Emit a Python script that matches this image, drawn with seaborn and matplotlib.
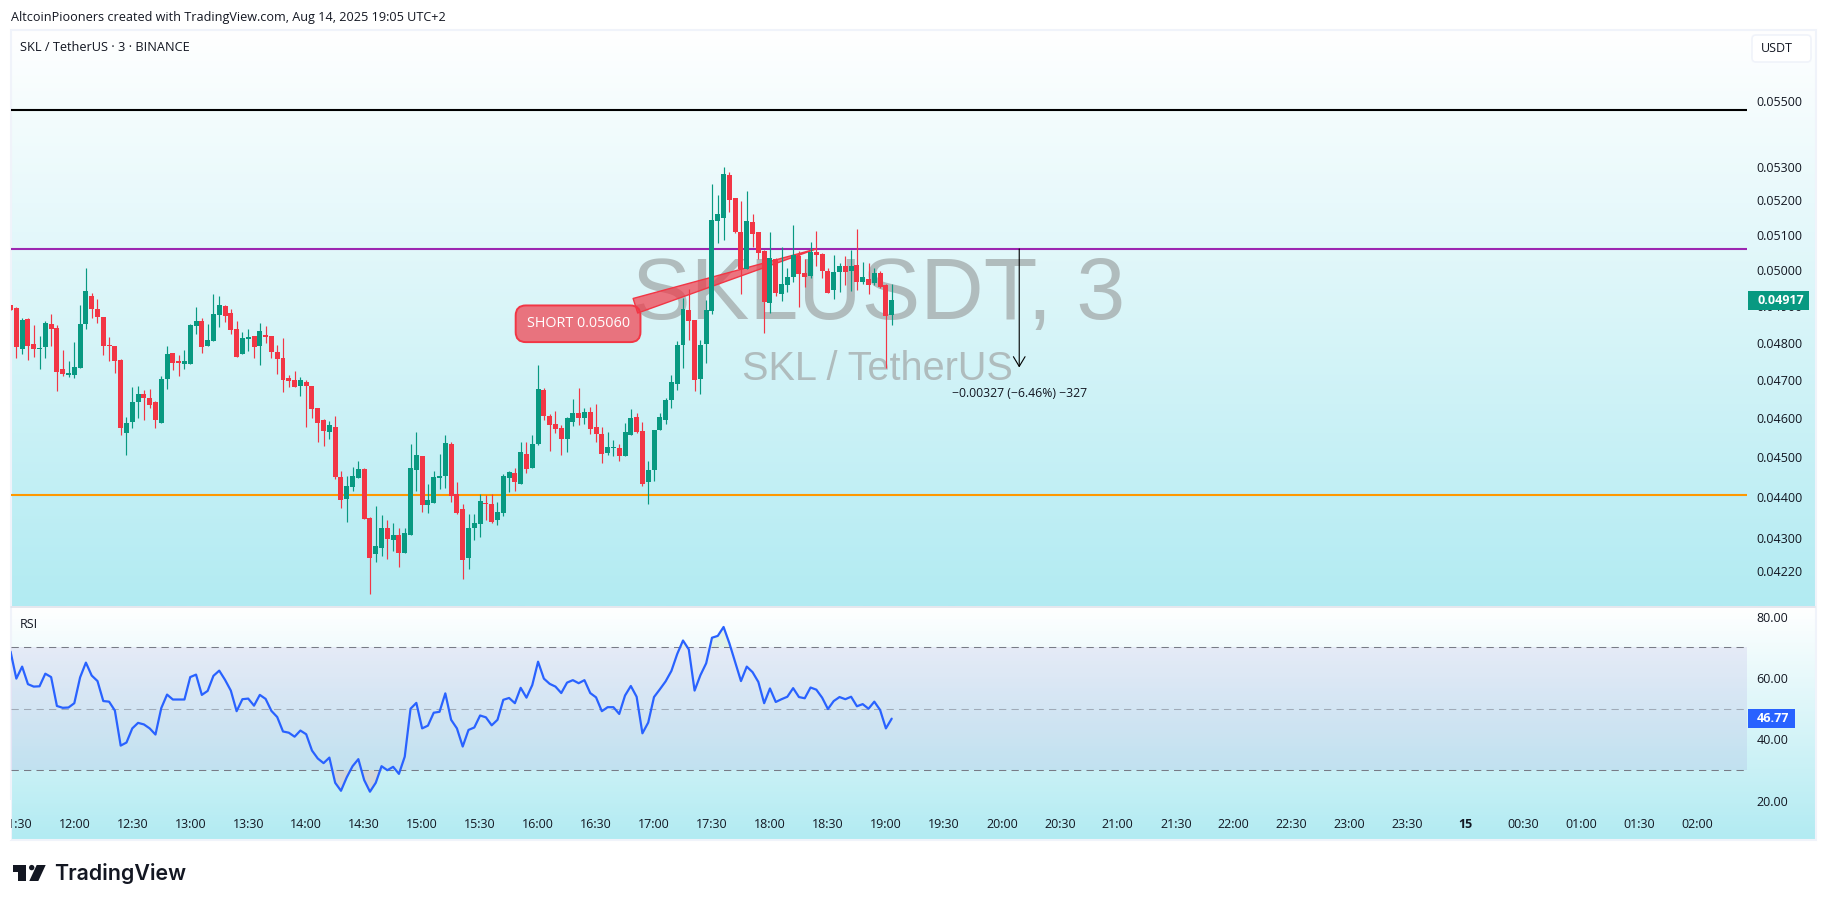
import numpy as np
import matplotlib
matplotlib.use("Agg")
import matplotlib.pyplot as plt
import seaborn as sns
from matplotlib.colors import LinearSegmentedColormap
from matplotlib.patches import FancyBboxPatch, Polygon, Rectangle, Circle

# prices are in ticks of 0.00001, one value per 3 minute bar, first bar is 11:27
opens = [4903,4894,4783,4864,4795,4783,4788,4850,4839,4730,4714,
         4714,4732,4850,4928,4891,4869,4793,4790,4753,4562,
         4590,4642,4663,4653,4642,4587,4703,4772,4750,4743,
         4743,4845,4858,4790,4804,4875,4900,4880,4837,4769,
         4810,4818,4790,4821,4818,4775,4758,4706,4700,4683,
         4694,4683,4626,4595,4565,4577,4449,4395,4424,4447,
         4470,4348,4261,4275,4323,4294,4308,4263,4308,4468,
         4502,4380,4385,4447,4452,4534,4407,4370,4252,4325,
         4333,4385,4382,4343,4360,4447,4459,4432,4508,4473,
         4534,4673,4605,4585,4575,4546,4590,4613,4600,4616,
         4577,4560,4511,4523,4523,4502,4557,4603,4567,4437,
         4468,4570,4595,4648,4689,4793,4888,4861,4703,4796,
         4885,5140,5149,5275,5207,5108,5003,5137,5108,5054,
         4908,5031,4933,4958,4980,5039,4992,4983,5051,5045,
         4997,4944,4994,5011,4997,5014,4966,4975,4963,4992,
         4958,4875]
highs = [4903,4896,4866,4866,4847,4818,4858,4877,4847,4780,4750,
         4802,4903,5006,4936,4920,4869,4815,4790,4756,4603,
         4681,4683,4673,4676,4644,4711,4790,4772,4767,4780,
         4850,4896,4866,4850,4933,4928,4903,4891,4858,4829,
         4837,4818,4853,4845,4818,4793,4812,4714,4724,4708,
         4700,4683,4626,4598,4593,4605,4465,4452,4475,4490,
         4473,4350,4379,4355,4343,4336,4323,4325,4534,4565,
         4502,4432,4465,4508,4557,4539,4437,4382,4357,4357,
         4407,4405,4407,4387,4457,4465,4473,4539,4539,4557,
         4740,4678,4611,4618,4582,4603,4650,4678,4626,4629,
         4636,4577,4565,4544,4534,4587,4624,4613,4590,4490,
         4570,4613,4653,4714,4804,4922,4947,4861,4807,4917,
         5249,5216,5299,5284,5207,5198,5228,5160,5108,5057,
         5108,5034,5065,5006,5128,5054,5031,5079,5111,5048,
         5006,5042,5020,5039,5057,5117,5023,5020,5006,4997,
         4961,4961]
lows = [4888,4758,4769,4753,4761,4730,4758,4790,4671,4711,4708,
        4706,4732,4837,4866,4853,4767,4750,4719,4557,4506,
        4575,4600,4595,4626,4575,4587,4676,4727,4711,4730,
        4743,4823,4772,4790,4804,4842,4856,4823,4761,4769,
        4777,4758,4740,4799,4758,4716,4668,4681,4681,4658,
        4578,4600,4539,4529,4546,4444,4374,4338,4415,4447,
        4345,4166,4241,4256,4248,4268,4229,4263,4308,4415,
        4362,4360,4385,4420,4422,4387,4357,4201,4224,4294,
        4301,4343,4336,4330,4353,4412,4415,4432,4459,4473,
        4531,4595,4516,4562,4506,4513,4580,4582,4585,4560,
        4539,4485,4506,4502,4490,4502,4557,4562,4427,4382,
        4439,4570,4585,4626,4673,4732,4807,4671,4663,4745,
        4877,5077,5085,5166,5105,4933,5003,5065,5031,4827,
        4880,4928,4914,4939,4966,4897,4952,4978,5011,4978,
        4936,4920,4939,4958,4941,4944,4961,4933,4958,4950,
        4732,4847]
closes = [4888,4788,4861,4790,4783,4785,4853,4837,4722,4716,4719,
          4735,4850,4941,4891,4869,4790,4790,4750,4575,4587,
          4642,4663,4653,4634,4595,4703,4769,4745,4745,4750,
          4847,4858,4788,4807,4877,4903,4872,4834,4761,4812,
          4815,4788,4831,4815,4775,4756,4700,4698,4681,4700,
          4683,4624,4587,4567,4582,4449,4393,4427,4452,4470,
          4345,4252,4280,4323,4296,4308,4263,4311,4473,4506,
          4380,4393,4449,4452,4536,4403,4360,4246,4323,4336,
          4389,4382,4338,4362,4452,4463,4437,4513,4470,4534,
          4676,4605,4582,4572,4546,4600,4613,4600,4616,4572,
          4560,4508,4526,4526,4502,4565,4600,4565,4432,4468,
          4570,4603,4648,4694,4793,4891,4858,4700,4793,4888,
          5143,5160,5278,5201,5108,5003,5140,5102,5048,4911,
          5034,4936,4961,4980,5042,4989,4980,5051,5042,4997,
          4936,4994,5011,4994,5011,4966,4980,4958,4992,4952,
          4872,4917]
rsi_values = [68.6,59.8,63.7,58.0,57.2,57.3,61.4,60.3,50.9,50.3,50.4,
              51.8,60.2,65.0,60.8,59.0,52.5,52.3,49.4,38.0,39.0,
              43.6,45.4,44.9,43.6,41.6,50.2,54.6,53.0,53.0,53.0,
              60.3,61.1,54.5,55.8,60.7,62.4,59.4,55.9,49.2,53.1,
              53.3,51.0,54.5,53.2,49.3,47.3,42.6,42.2,40.9,42.9,
              41.7,36.4,33.8,32.3,34.1,25.9,23.3,27.7,31.3,33.6,
              26.8,23.0,25.9,31.3,30.0,31.1,28.8,34.4,50.0,51.9,
              43.6,44.5,48.7,49.0,55.0,46.4,43.6,37.7,43.1,43.9,
              47.8,47.2,44.6,46.4,52.9,53.5,51.8,56.8,53.6,57.7,
              65.3,59.8,58.1,57.2,55.1,58.5,59.3,58.3,59.3,55.1,
              53.7,49.2,50.5,50.5,48.3,54.3,57.4,53.9,42.0,45.5,
              53.8,56.3,58.9,62.3,67.8,72.2,69.3,55.9,60.9,64.8,
              73.1,73.7,76.6,71.3,65.2,59.0,63.7,61.9,58.7,51.8,
              56.6,52.2,53.1,53.9,56.7,53.8,53.4,56.9,56.2,53.6,
              49.9,52.5,53.8,53.1,53.9,50.8,51.5,50.0,52.3,49.6,
              43.6,46.77]

price_ticks = [0.055, 0.053, 0.052, 0.051, 0.05, 0.049, 0.048, 0.047, 0.046,
               0.045, 0.044, 0.043, 0.0422]
rsi_ticks = [80, 60, 40, 20]
time_labels = ["11:30", "12:00", "12:30", "13:00", "13:30", "14:00", "14:30", "15:00",
               "15:30", "16:00", "16:30", "17:00", "17:30", "18:00", "18:30", "19:00",
               "19:30", "20:00", "20:30", "21:00", "21:30", "22:00", "22:30", "23:00",
               "23:30", "15", "00:30", "01:00", "01:30", "02:00"]
level_black, level_purple, level_orange = 0.05471, 0.0506, 0.04405
measure_drop = 0.00327
last_price, last_rsi = "0.04917", "46.77"

RED, GREEN, BLUE = "#f23645", "#089981", "#2962ff"
INK = "#131722"
WIDTH, HEIGHT = 1826, 906


def px_axes(left, top, right, bottom, **kw):
    return fig.add_axes([left / WIDTH, 1 - bottom / HEIGHT, (right - left) / WIDTH,
                         (bottom - top) / HEIGHT], **kw)


sns.set_theme(style="white")
plt.rcParams["font.family"] = ["Open Sans", "DejaVu Sans"]
plt.rcParams["font.size"] = 9

fig = plt.figure(figsize=(WIDTH / 100, HEIGHT / 100), dpi=100, facecolor="white")

# --- backdrop in pixel coordinates -------------------------------------------
bg = px_axes(0, 0, WIDTH, HEIGHT, zorder=0)
fade = LinearSegmentedColormap.from_list("fade", ["#ffffff", "#b2ebf2"])
ramp = np.linspace(0, 1, 256).reshape(-1, 1)
bg.imshow(ramp, cmap=fade, extent=(11, 1815, 606, 30), aspect="auto", origin="upper")
bg.imshow(ramp, cmap=fade, extent=(11, 1815, 839, 607), aspect="auto", origin="upper")
bg.set_xlim(0, WIDTH)
bg.set_ylim(HEIGHT, 0)
bg.axis("off")
bg.add_patch(Rectangle((10.5, 29.5), 1805, 810, fill=False, ec="#f0f3fa", lw=1.5))
bg.plot([11, 1815], [606.5, 606.5], color="#e0e3eb", lw=1.2)

bg.text(11, 17, "AltcoinPiooners created with TradingView.com, Aug 14, 2025 19:05 UTC+2",
        color=INK, fontsize=9.1, va="center")
bg.text(20, 47.5, "SKL / TetherUS · 3 · BINANCE", color=INK, fontsize=9.2, va="center")
bg.text(20, 624, "RSI", color=INK, fontsize=9, va="center")

# logo
bg.add_patch(Polygon([(13.3, 865), (26, 865), (26, 881), (18.3, 881), (18.3, 871.7), (13.3, 871.7)], color=INK, lw=0))
bg.add_patch(Circle((31.7, 867.6), 2.7, color=INK, lw=0))
bg.add_patch(Polygon([(36.7, 865), (45.7, 865), (38.3, 881), (29.3, 881)], color=INK, lw=0))
bg.text(54, 873, "TradingView", color=INK, fontsize=15.4, family="Inter", weight="semibold", va="center")

# --- candles -----------------------------------------------------------------
bars = np.arange(len(closes)) - 11
o = np.array(opens) * 1e-5
h = np.array(highs) * 1e-5
l = np.array(lows) * 1e-5
c = np.array(closes) * 1e-5
colors = np.where(c >= o, GREEN, RED)

ax = px_axes(11, 30, 1747, 606, zorder=1)
ax.patch.set_visible(False)
ax.set_yscale("log")
ax.set_xlim(-10.92, 288.54)
ax.set_ylim(0.04138, 0.05724)

ax.text(138.8, 0.04925, "SKLUSDT, 3", family="Liberation Sans", fontsize=63.3, color="#aeb9ba",
        ha="center", va="center", zorder=1, alpha=0.95)
ax.text(138.6, 0.0473, "SKL / TetherUS", family="Liberation Sans", fontsize=28.5, color="#aeb9ba",
        ha="center", va="center", zorder=1, alpha=0.95)

ax.axhline(level_black, color="black", lw=1.5, zorder=2)
ax.axhline(level_purple, color="#9c27b0", lw=1.5, zorder=2)
ax.axhline(level_orange, color="#ff9800", lw=1.5, zorder=2)

ax.annotate("SHORT 0.05060", xy=(128, level_purple), xytext=(86.9, 0.04851),
            color="white", fontsize=10.4, ha="center", va="center", zorder=2.5,
            bbox=dict(boxstyle="round,pad=0.75,rounding_size=0.7", fc=(0.949, 0.212, 0.271, 0.68), ec=RED, lw=1.4),
            arrowprops=dict(arrowstyle="wedge,tail_width=1.1,shrink_factor=0.5", mutation_scale=10,
                            fc=(0.949, 0.212, 0.271, 0.68), ec=RED, lw=1, shrinkA=0, shrinkB=0))

ax.vlines(bars, l, h, colors=colors, lw=0.85, zorder=3)
ax.bar(bars, np.maximum(np.abs(c - o), 2e-5), bottom=np.minimum(c, o), width=0.86, color=colors, lw=0, zorder=3.1)

ax.annotate("", xy=(163, level_purple - measure_drop), xytext=(163, level_purple), zorder=4,
            arrowprops=dict(arrowstyle="->,head_length=0.5,head_width=0.3", color="black", lw=0.8,
                            mutation_scale=14, shrinkA=0, shrinkB=0))
ax.text(163, 0.04665, "\u22120.00327 (\u22126.46%) \u2212327", color=INK, fontsize=8.8, ha="center", va="center", zorder=4)

ax.minorticks_off()
ax.set_yticks(price_ticks)
ax.set_yticklabels([f"{t:.5f}" for t in price_ticks])
ax.yaxis.tick_right()
ax.tick_params(axis="y", length=0, pad=7, labelsize=9, labelcolor=INK)
ax.minorticks_off()
ax.set_xticks([])
sns.despine(ax=ax, left=True, right=True, top=True, bottom=True)

# --- RSI ---------------------------------------------------------------------
ax_rsi = px_axes(11, 607, 1747, 808, zorder=1)
ax_rsi.patch.set_visible(False)
ax_rsi.set_xlim(-10.92, 288.54)
ax_rsi.set_ylim(17.7, 83.1)

rsi = np.array(rsi_values)
ax_rsi.axhspan(30, 70, color="#7e57c2", alpha=0.1, lw=0)
ax_rsi.fill_between(bars, rsi, 70, where=rsi > 70, interpolate=True, color="#c8e6c9", alpha=0.4, lw=0)
ax_rsi.fill_between(bars, rsi, 30, where=rsi < 30, interpolate=True, color="#ef9a9a", alpha=0.3, lw=0)
for level, alpha in [(70, 1), (50, 0.55), (30, 1)]:
    ax_rsi.axhline(level, color="#787b86", lw=0.75, ls=(0, (7, 5)), alpha=alpha)
sns.lineplot(x=bars, y=rsi, color=BLUE, lw=1.6, estimator=None, legend=False, ax=ax_rsi, zorder=3)

ax_rsi.set_yticks(rsi_ticks)
ax_rsi.set_yticklabels([f"{t:.2f}" for t in rsi_ticks])
ax_rsi.yaxis.tick_right()
ax_rsi.tick_params(axis="y", length=0, pad=7, labelsize=9, labelcolor=INK)
ax_rsi.set_xticks(np.arange(-10, 281, 10))
ax_rsi.set_xticklabels(time_labels)
ax_rsi.tick_params(axis="x", length=0, pad=7.5, labelsize=9, labelcolor=INK)
ax_rsi.set_xlabel("")
ax_rsi.set_ylabel("")
for lab in ax_rsi.get_xticklabels():
    if lab.get_text() == "15":
        lab.set_fontweight("bold")
sns.despine(ax=ax_rsi, left=True, right=True, top=True, bottom=True)

# --- pieces that sit on top of the axes --------------------------------------
top = px_axes(0, 0, WIDTH, HEIGHT, zorder=5)
top.patch.set_visible(False)
top.set_xlim(0, WIDTH)
top.set_ylim(HEIGHT, 0)
top.axis("off")
top.add_patch(Rectangle((0, 800), 10.5, 40, fc="white", ec="none"))
top.add_patch(Rectangle((1748, 291), 61, 19, fc=GREEN, ec="none"))
top.text(1757, 300.5, last_price, color="white", fontsize=9, weight="bold", va="center")
top.add_patch(Rectangle((1748, 709), 47, 19, fc=BLUE, ec="none"))
top.text(1757, 718.5, last_rsi, color="white", fontsize=9, weight="bold", va="center")
top.add_patch(FancyBboxPatch((1752, 35), 59, 27, boxstyle="round,pad=0,rounding_size=4", fc="white", ec="#f0f3fa", lw=1.2))
top.text(1761, 48.5, "USDT", color=INK, fontsize=9, va="center")

fig.savefig("out.png", dpi=100)
